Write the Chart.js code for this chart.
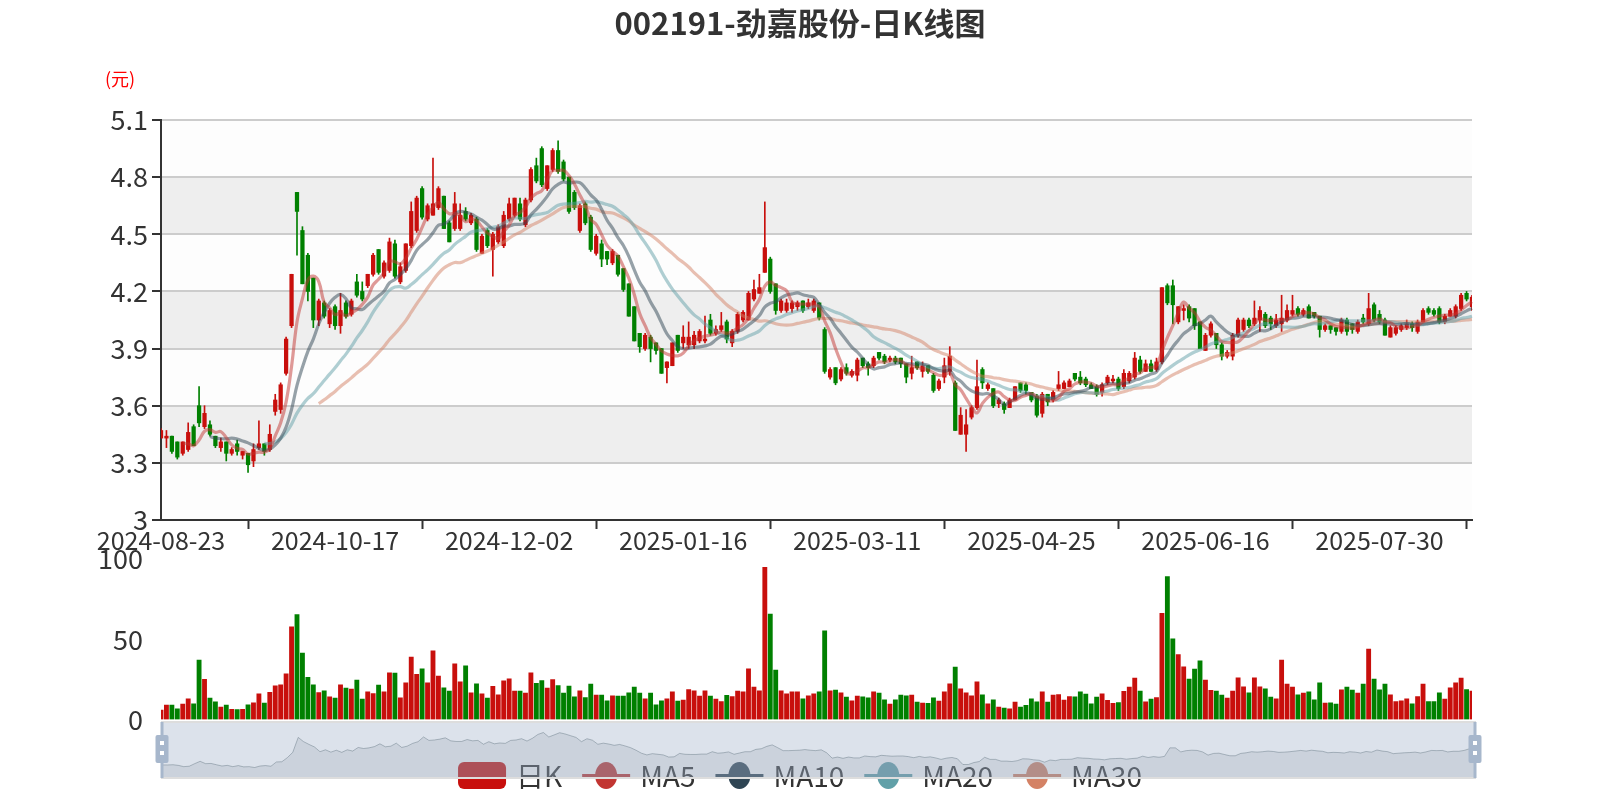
<!DOCTYPE html>
<html><head><meta charset="utf-8">
<script src="https://cdn.jsdelivr.net/npm/chart.js@4.4.0/dist/chart.umd.min.js"></script>
<style>
html,body{margin:0;padding:0;background:#fff;}
#wrap{position:relative;width:1600px;height:800px;overflow:hidden;background:#fff;}
.box{position:absolute;left:0;width:1600px;}
canvas{display:block;}
</style></head><body>
<div id="wrap">
<div class="box" style="top:0;height:560px"><canvas id="price"></canvas></div>
<div class="box" style="top:540px;height:200px"><canvas id="vol"></canvas></div>
<div class="box" style="top:700px;height:100px"><canvas id="zoom"></canvas></div>
</div>
<script>
const TITLE = '002191-劲嘉股份-日K线图';
const UNIT = '(元)';
const seriesNames = ['日K', 'MA5', 'MA10', 'MA20', 'MA30'];
const tickDates = ['2024-08-23','2024-10-17','2024-12-02','2025-01-16','2025-03-11','2025-04-25','2025-06-16','2025-07-30'];

const tradingDays = [
 ['2024-08',[23,26,27,28,29,30]],
 ['2024-09',[2,3,4,5,6,9,10,11,12,13,18,19,20,23,24,25,26,27,30]],
 ['2024-10',[8,9,10,11,14,15,16,17,18,21,22,23,24,25,28,29,30,31]],
 ['2024-11',[1,4,5,6,7,8,11,12,13,14,15,18,19,20,21,22,25,26,27,28,29]],
 ['2024-12',[2,3,4,5,6,9,10,11,12,13,16,17,18,19,20,23,24,25,26,27,30,31]],
 ['2025-01',[2,3,6,7,8,9,10,13,14,15,16,17,20,21,22,23,24,27]],
 ['2025-02',[5,6,7,10,11,12,13,14,17,18,19,20,21,24,25,26,27,28]],
 ['2025-03',[3,4,5,6,7,10,11,12,13,14,17,18,19,20,21,24,25,26,27,28,31]],
 ['2025-04',[1,2,3,7,8,9,10,11,14,15,16,17,18,21,22,23,24,25,28,29,30]],
 ['2025-05',[6,7,8,9,12,13,14,15,16,19,20,21,22,23,26,27,28,29,30]],
 ['2025-06',[3,4,5,6,9,10,11,12,13,16,17,18,19,20,23,24,25,26,27,30]],
 ['2025-07',[1,2,3,4,7,8,9,10,11,14,15,16,17,18,21,22,23,24,25,28,29,30,31]],
 ['2025-08',[1,4,5,6,7,8,11,12,13,14,15,18,19,20,21,22]]
];

const open = [
3.43,3.43,3.44,3.41,3.35,3.37,3.49,3.60,3.49,3.50,
3.44,3.38,3.41,3.35,3.40,3.34,3.35,3.31,3.38,3.40,
3.37,3.57,3.58,3.77,4.02,4.72,4.52,4.39,4.27,4.05,
4.14,4.03,4.12,4.02,4.14,4.08,4.25,4.20,4.23,4.29,
4.42,4.28,4.31,4.45,4.25,4.31,4.44,4.52,4.74,4.58,
4.60,4.64,4.70,4.56,4.53,4.53,4.62,4.56,4.58,4.40,
4.52,4.42,4.46,4.44,4.58,4.60,4.66,4.55,4.68,4.86,
4.95,4.74,4.84,4.94,4.88,4.80,4.72,4.52,4.66,4.59,
4.40,4.45,4.41,4.35,4.39,4.32,4.24,4.12,3.98,3.90,
3.96,3.93,3.90,3.80,3.81,3.97,3.93,3.92,3.92,3.94,
3.94,4.05,3.98,4.00,4.04,3.93,3.99,4.05,4.05,4.16,
4.19,4.30,4.37,4.24,4.10,4.10,4.11,4.12,4.15,4.12,
4.10,4.14,4.00,3.75,3.80,3.74,3.80,3.76,3.76,3.85,
3.82,3.81,3.88,3.86,3.84,3.85,3.85,3.82,3.77,3.83,
3.78,3.81,3.76,3.69,3.75,3.78,3.72,3.45,3.45,3.54,
3.59,3.79,3.69,3.69,3.61,3.61,3.59,3.63,3.72,3.71,
3.67,3.65,3.56,3.66,3.63,3.69,3.69,3.70,3.77,3.75,
3.74,3.71,3.70,3.67,3.72,3.73,3.74,3.70,3.73,3.75,
3.84,3.78,3.82,3.79,3.83,4.23,4.23,4.04,4.10,4.12,
4.11,4.04,3.89,3.97,3.98,3.92,3.86,3.86,3.97,4.00,
4.05,4.03,4.05,4.08,4.06,4.02,4.03,4.05,4.08,4.11,
4.08,4.12,4.09,4.07,4.00,4.02,4.01,3.99,4.05,4.03,
3.99,4.06,4.03,4.13,4.08,4.05,3.96,3.98,4.00,4.01,
4.03,3.99,4.04,4.11,4.10,4.11,4.04,4.07,4.07,4.11,
4.19,4.12];
const close = [
3.47,3.44,3.36,3.33,3.41,3.46,3.39,3.51,3.56,3.45,
3.39,3.41,3.35,3.37,3.36,3.36,3.29,3.37,3.40,3.36,
3.45,3.63,3.71,3.95,4.29,4.62,4.24,4.20,4.05,4.15,
4.07,4.10,4.02,4.10,4.07,4.15,4.18,4.16,4.29,4.39,
4.30,4.35,4.46,4.28,4.33,4.45,4.62,4.69,4.59,4.65,
4.66,4.74,4.53,4.46,4.66,4.60,4.58,4.60,4.42,4.49,
4.44,4.50,4.54,4.60,4.66,4.69,4.58,4.68,4.84,4.78,
4.76,4.86,4.94,4.83,4.79,4.62,4.64,4.65,4.56,4.42,
4.49,4.37,4.37,4.41,4.29,4.21,4.07,3.94,3.91,3.97,
3.90,3.89,3.77,3.83,3.93,3.89,3.96,3.96,3.97,3.99,
3.95,3.98,4.00,4.02,3.95,3.99,4.08,4.09,4.19,4.21,
4.22,4.43,4.20,4.10,4.15,4.14,4.14,4.14,4.10,4.14,
4.15,4.06,3.78,3.79,3.72,3.79,3.77,3.78,3.84,3.81,
3.80,3.85,3.85,3.83,3.85,3.83,3.82,3.75,3.80,3.80,
3.81,3.78,3.68,3.73,3.81,3.86,3.47,3.55,3.50,3.59,
3.70,3.72,3.71,3.60,3.63,3.58,3.63,3.70,3.68,3.68,
3.63,3.55,3.66,3.62,3.67,3.71,3.72,3.73,3.74,3.72,
3.71,3.69,3.66,3.71,3.75,3.74,3.69,3.77,3.77,3.85,
3.78,3.82,3.78,3.83,4.22,4.14,4.13,4.12,4.11,4.06,
4.02,3.90,3.97,4.03,3.92,3.86,3.88,3.97,4.05,4.05,
4.02,4.06,4.10,4.02,4.03,4.05,4.06,4.10,4.10,4.08,
4.10,4.06,4.07,4.00,4.02,4.00,3.99,4.05,3.99,4.00,
4.04,4.04,4.11,4.05,4.04,3.97,4.01,4.01,4.02,4.03,
4.01,4.04,4.10,4.09,4.08,4.04,4.07,4.10,4.12,4.18,
4.16,4.17];
const low = [
3.43,3.38,3.35,3.32,3.34,3.36,3.39,3.49,3.48,3.44,
3.38,3.36,3.31,3.34,3.34,3.32,3.25,3.28,3.37,3.34,
3.36,3.55,3.56,3.76,4.01,4.39,4.24,4.15,4.01,4.02,
4.06,4.01,4.00,3.98,4.06,4.07,4.17,4.15,4.22,4.28,
4.29,4.27,4.30,4.27,4.24,4.30,4.43,4.51,4.58,4.57,
4.60,4.63,4.53,4.46,4.52,4.52,4.57,4.55,4.41,4.40,
4.43,4.28,4.45,4.43,4.57,4.59,4.57,4.54,4.67,4.77,
4.75,4.73,4.83,4.82,4.78,4.61,4.63,4.51,4.55,4.41,
4.39,4.33,4.34,4.34,4.28,4.20,4.07,3.94,3.88,3.89,
3.83,3.87,3.77,3.72,3.81,3.88,3.90,3.90,3.90,3.93,
3.93,3.97,3.97,3.99,3.93,3.91,3.98,4.04,4.05,4.15,
4.19,4.30,4.19,4.08,4.09,4.09,4.09,4.10,4.09,4.11,
4.09,4.05,3.77,3.74,3.71,3.73,3.76,3.75,3.73,3.80,
3.76,3.80,3.84,3.82,3.83,3.82,3.80,3.72,3.74,3.79,
3.75,3.77,3.67,3.68,3.72,3.76,3.47,3.45,3.36,3.53,
3.58,3.69,3.68,3.59,3.59,3.56,3.59,3.63,3.67,3.66,
3.62,3.54,3.54,3.60,3.62,3.68,3.69,3.70,3.73,3.71,
3.70,3.69,3.65,3.65,3.71,3.72,3.68,3.69,3.72,3.74,
3.77,3.78,3.78,3.78,3.82,4.13,4.03,4.03,4.05,4.04,
4.00,3.90,3.89,3.96,3.90,3.84,3.85,3.84,3.96,3.99,
4.01,4.02,3.99,4.01,4.00,4.01,3.99,4.04,4.07,4.07,
4.07,4.06,4.06,3.96,3.99,3.98,3.97,3.98,3.97,3.98,
3.98,4.03,4.02,4.04,4.03,3.97,3.96,3.97,3.99,4.00,
3.99,3.98,4.04,4.08,4.07,4.03,4.03,4.07,4.06,4.10,
4.15,4.10];
const high = [
3.48,3.47,3.44,3.41,3.41,3.51,3.50,3.70,3.60,3.52,
3.44,3.43,3.41,3.38,3.42,3.36,3.35,3.40,3.52,3.40,
3.50,3.66,3.72,3.96,4.29,4.72,4.54,4.40,4.27,4.16,
4.15,4.11,4.13,4.19,4.15,4.16,4.29,4.25,4.29,4.40,
4.42,4.36,4.48,4.47,4.35,4.45,4.67,4.70,4.75,4.66,
4.90,4.75,4.70,4.57,4.72,4.66,4.64,4.61,4.59,4.50,
4.53,4.51,4.55,4.62,4.69,4.69,4.69,4.69,4.85,4.90,
4.96,4.86,4.95,4.99,4.89,4.80,4.73,4.66,4.67,4.60,
4.50,4.47,4.41,4.42,4.39,4.32,4.24,4.12,3.98,3.98,
3.97,3.93,3.90,3.83,3.93,3.97,4.02,4.04,3.99,4.00,
4.07,4.08,4.02,4.09,4.05,4.00,4.09,4.10,4.20,4.26,
4.29,4.67,4.38,4.24,4.16,4.16,4.15,4.15,4.15,4.16,
4.16,4.14,4.01,3.80,3.80,3.80,3.82,3.79,3.85,3.85,
3.83,3.86,3.88,3.87,3.86,3.86,3.85,3.82,3.86,3.83,
3.83,3.81,3.77,3.74,3.85,3.91,3.73,3.59,3.58,3.60,
3.84,3.80,3.72,3.69,3.64,3.62,3.64,3.70,3.72,3.72,
3.67,3.66,3.67,3.66,3.68,3.78,3.73,3.74,3.77,3.78,
3.75,3.72,3.71,3.72,3.76,3.76,3.75,3.79,3.78,3.88,
3.86,3.84,3.84,3.85,4.22,4.24,4.26,4.12,4.13,4.13,
4.11,4.04,3.98,4.04,3.98,3.93,3.89,3.98,4.06,4.06,
4.06,4.15,4.12,4.09,4.07,4.08,4.18,4.13,4.18,4.12,
4.11,4.13,4.09,4.07,4.03,4.02,4.01,4.06,4.06,4.03,
4.05,4.08,4.19,4.14,4.10,4.06,4.02,4.02,4.03,4.05,
4.04,4.05,4.11,4.12,4.11,4.12,4.08,4.11,4.13,4.19,
4.20,4.18];
const volume = [
5.8,9,9,6.7,9.6,12.9,9.8,37,25,13.3,
11,7.7,9,6.4,6.2,6.4,9.1,10.4,16,10.2,
17,21,21.6,28.5,57.8,65.3,41.4,26.2,21.6,16.8,
17.9,14.1,13.3,21.6,19.5,18.9,24.5,12.7,17.3,16.2,
21.4,17.3,29.1,28.9,13.5,22.9,38.9,28.1,31.6,22.9,
42.8,27,19.8,17.7,34.7,23.5,33.5,16.6,22.2,16,
13.3,20.6,15.4,24.1,25.4,17.7,17.7,16.4,29.1,22.5,
24.3,19.5,24.9,21.2,16.4,20.8,14.1,17.9,13.7,22,
15.2,15.2,11.6,14.8,14.6,14.6,16.6,20.2,16.4,12.9,
16.4,9.1,11.6,12.9,17.3,11.4,12.1,18.7,17.9,14.6,
17.9,14.6,12.7,11.2,15,14.3,17.7,17.3,31.6,20.2,
17.9,94.8,65.7,30.8,17.9,16,17.3,17.3,12.9,14.8,
16,17.2,55.3,17.9,18.3,16.6,13.9,11.6,14.6,14.1,
13.5,17.3,16.4,12.3,9.6,12.3,15.2,14.8,15.2,10.8,
10.2,10,13.5,11.4,17.3,22.2,32.6,19.1,16.6,14.8,
23.5,15.4,9.8,12.3,7.7,7.1,6.7,10.8,7.7,8.9,
12.9,11,17.3,10.8,15.2,15.6,12.1,14.3,14.1,17.3,
15.8,9.8,13.9,16,11.9,10,10.6,17.5,20.2,25.8,
17.7,11,12.7,13.7,66.1,89,50.3,40.5,32.8,25.2,
31.4,36.6,24.5,18.1,17.7,15.2,13.3,17.7,26,20.4,
16.6,26,20.4,19.1,13.9,12.9,37,22,20.2,15.4,
16.4,17.3,12.3,22.9,10.2,10.4,9.6,18.5,20.2,18.3,
16.4,22,43.9,25.2,18.5,22,15.4,11.2,11.6,12.9,
9.8,14.3,22,11.2,11.2,16.6,12.7,19.8,22.9,25.8,
18.7,17.7];

// ---------- derived tables ----------
const dates = [];
tradingDays.forEach(([ym, days]) => days.forEach(d => dates.push(ym + '-' + String(d).padStart(2, '0'))));
const UP = '#c80f0c', DOWN = '#008000';
const dirColors = open.map((o, i) => close[i] >= o ? UP : DOWN);
function calcMA(n) {
  return close.map((c, i) => {
    if (i < n - 1) return null;
    let s = 0; for (let k = i - n + 1; k <= i; k++) s += close[k];
    return +(s / n).toFixed(3);
  });
}
const MA_COLORS = ['#c23531', '#2f4554', '#61a0a8', '#d48265'];
const MA_DAYS = [5, 10, 20, 30];
function rgba(hex, a) {
  const n = parseInt(hex.slice(1), 16);
  return `rgba(${n >> 16},${(n >> 8) & 255},${n & 255},${a})`;
}
const FONT = '"Noto Sans CJK SC", "Noto Sans", sans-serif';
Chart.defaults.font.family = FONT;
Chart.defaults.color = '#333';
const noPad = s => { s.paddingTop = 0; s.paddingBottom = 0; };

// ---------- price chart ----------
const bandsPlugin = {
  id: 'bands',
  beforeDraw(chart) {
    const y = chart.scales.y, a = chart.chartArea, ctx = chart.ctx;
    ctx.save();
    for (let k = 0; k < 7; k++) {
      const v0 = 3 + 0.3 * k, v1 = 3 + 0.3 * (k + 1);
      const p0 = y.getPixelForValue(v0), p1 = y.getPixelForValue(v1);
      ctx.fillStyle = k % 2 === 0 ? '#fdfdfd' : '#eeeeee';
      ctx.fillRect(a.left, p1, a.right - a.left, p0 - p1);
    }
    ctx.restore();
  },
  afterDraw(chart) {
    const ctx = chart.ctx;
    ctx.save();
    ctx.fillStyle = '#333';
    ctx.font = 'bold 31px ' + FONT;
    ctx.textAlign = 'center';
    ctx.textBaseline = 'middle';
    ctx.fillText(TITLE, 800, 23);
    ctx.fillStyle = '#ff0000';
    ctx.font = '18px ' + FONT;
    ctx.fillText(UNIT, 120, 79);
    ctx.restore();
  }
};

const maSets = MA_DAYS.map((n, k) => ({
  type: 'line', label: seriesNames[k + 1], data: calcMA(n),
  borderColor: rgba(MA_COLORS[k], 0.5), borderWidth: 3.2, pointRadius: 0,
  tension: 0.4, order: 1 + k, spanGaps: false
}));

new Chart(document.getElementById('price'), {
  type: 'bar',
  data: {
    labels: dates,
    datasets: [
      ...maSets,
      { label: 'wick', data: low.map((l, i) => [l, high[i]]), backgroundColor: dirColors,
        barThickness: 1, grouped: false, order: 20 },
      { label: seriesNames[0], data: open.map((o, i) => [o, close[i]]), backgroundColor: dirColors,
        barThickness: 3.6, grouped: false, order: 19, minBarLength: 1 }
    ]
  },
  options: {
    responsive: true, maintainAspectRatio: false, animation: false,
    layout: { padding: { top: 120, right: 128, left: 0, bottom: 0 }, autoPadding: false },
    plugins: { legend: { display: false }, tooltip: { enabled: false }, title: { display: false } },
    scales: {
      x: {
        type: 'category', offset: false,
        grid: { drawOnChartArea: false, drawTicks: true, tickLength: 9, tickColor: '#333', tickWidth: 2 },
        border: { display: true, color: '#333', width: 2 },
        ticks: { autoSkip: false, maxRotation: 0, minRotation: 0, font: { size: 25 }, color: '#333', padding: -4 },
        afterBuildTicks: s => { s.ticks = s.ticks.filter(t => tickDates.includes(dates[t.value])); },
        afterFit: s => { s.height = 40; s.paddingLeft = 0; s.paddingRight = 0; }
      },
      y: {
        min: 3, max: 5.1,
        ticks: { stepSize: 0.3, font: { size: 27 }, color: '#333', padding: 4,
          callback: v => String(+Number(v).toFixed(2)) },
        grid: { color: '#cccccc', lineWidth: 2, drawTicks: true, tickLength: 9, tickColor: '#333', tickWidth: 2 },
        border: { display: true, color: '#333', width: 2 },
        afterFit: s => { s.width = 161; noPad(s); }
      }
    }
  },
  plugins: [bandsPlugin]
});

// ---------- volume chart ----------
new Chart(document.getElementById('vol'), {
  type: 'bar',
  data: { labels: dates, datasets: [{ label: 'vol', data: volume, backgroundColor: dirColors, barThickness: 4.2, grouped: false }] },
  options: {
    responsive: true, maintainAspectRatio: false, animation: false,
    layout: { padding: { top: 19, right: 128, left: 0, bottom: 20.5 }, autoPadding: false },
    plugins: { legend: { display: false }, tooltip: { enabled: false } },
    scales: {
      x: { type: 'category', offset: false, display: false },
      y: {
        min: 0, max: 100,
        ticks: { stepSize: 50, font: { size: 27 }, color: '#333', padding: 18 },
        grid: { display: false, drawTicks: false },
        border: { display: false },
        afterFit: s => { s.width = 161; noPad(s); }
      }
    }
  }
});

// ---------- data zoom slider + legend ----------
function drawLegend(ctx) {
  ctx.save();
  ctx.font = '28px ' + FONT;
  ctx.textBaseline = 'middle';
  const iconW = 48, iconH = 27, textGap = 10, itemGap = 20, cy = 75.5;
  const widths = seriesNames.map(n => iconW + textGap + ctx.measureText(n).width);
  const total = widths.reduce((a, b) => a + b, 0) + itemGap * (widths.length - 1);
  let x = 800 - total / 2;
  seriesNames.forEach((name, k) => {
    if (k === 0) {
      ctx.fillStyle = UP;
      ctx.beginPath();
      ctx.roundRect(x, cy - iconH / 2, iconW, iconH, 6);
      ctx.fill();
    } else {
      const c = MA_COLORS[k - 1];
      ctx.strokeStyle = c; ctx.lineWidth = 3;
      ctx.beginPath(); ctx.moveTo(x, cy); ctx.lineTo(x + iconW, cy); ctx.stroke();
      ctx.fillStyle = c;
      ctx.beginPath(); ctx.ellipse(x + iconW / 2, cy, 11, 13.5, 0, 0, Math.PI * 2); ctx.fill();
    }
    ctx.fillStyle = '#333';
    ctx.fillText(name, x + iconW + textGap, cy + 1);
    x += widths[k] + itemGap;
  });
  ctx.restore();
}
let oMin = Math.min(...open), oMax = Math.max(...open);
const oPad = (oMax - oMin) * 0.3;
const sliderPlugin = {
  id: 'slider',
  beforeDraw(chart) {
    const ctx = chart.ctx, a = chart.chartArea;
    drawLegend(ctx);
    ctx.save();
    ctx.fillStyle = 'rgba(167,183,204,0.4)';
    ctx.fillRect(a.left, a.top, a.right - a.left, a.bottom - a.top);
    ctx.restore();
  },
  afterDraw(chart) {
    const ctx = chart.ctx, a = chart.chartArea;
    ctx.save();
    ctx.strokeStyle = '#dddddd'; ctx.lineWidth = 2;
    ctx.strokeRect(a.left, a.top, a.right - a.left, a.bottom - a.top);
    [a.left, a.right].forEach(x => {
      ctx.fillStyle = '#a7b7cc';
      ctx.fillRect(x - 1.5, a.top, 3, a.bottom - a.top);
      ctx.beginPath(); ctx.roundRect(x - 6.5, 35, 13, 28, 2); ctx.fill();
      ctx.fillStyle = '#ffffff';
      ctx.fillRect(x - 2, 41, 4, 4);
      ctx.fillRect(x - 2, 51, 4, 4);
    });
    ctx.restore();
  }
};
new Chart(document.getElementById('zoom'), {
  type: 'line',
  data: { labels: dates, datasets: [{ data: open, borderColor: 'rgba(47,69,84,0.3)', borderWidth: 1, pointRadius: 0,
    fill: 'start', backgroundColor: 'rgba(47,69,84,0.1)', tension: 0 }] },
  options: {
    responsive: true, maintainAspectRatio: false, animation: false,
    layout: { padding: { top: 22, bottom: 22, left: 162, right: 125 }, autoPadding: false },
    plugins: { legend: { display: false }, tooltip: { enabled: false } },
    scales: { x: { display: false, offset: false }, y: { display: false, min: oMin - oPad, max: oMax + oPad } }
  },
  plugins: [sliderPlugin]
});
</script>
</body></html>
